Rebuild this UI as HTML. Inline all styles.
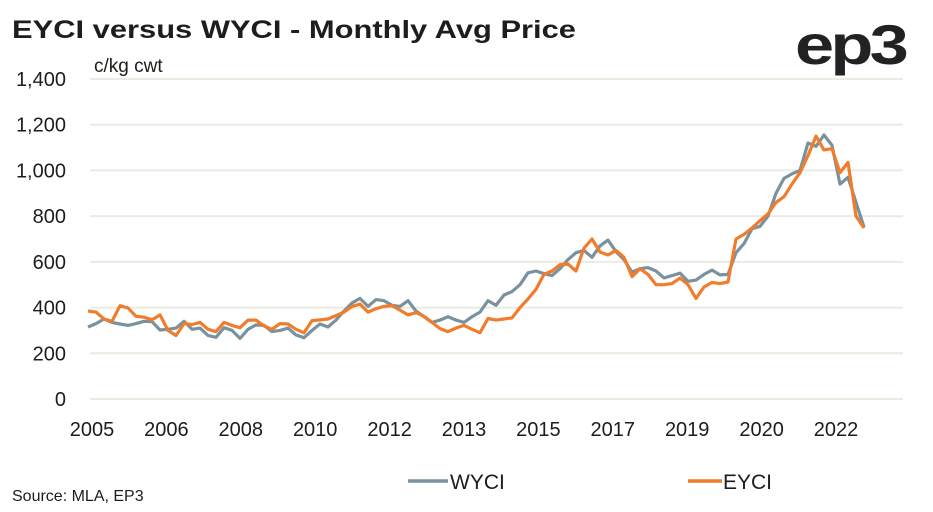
<!DOCTYPE html>
<html><head><meta charset="utf-8"><style>
body{margin:0;background:#fff;width:933px;height:512px;overflow:hidden;font-family:"Liberation Sans",sans-serif;color:#1d1d1b}
svg{position:absolute;left:0;top:0}
</style></head><body>
<svg width="933" height="512">
<text x="12" y="38" font-size="25" font-weight="bold" fill="#1d1d1b" textLength="564" lengthAdjust="spacingAndGlyphs">EYCI versus WYCI - Monthly Avg Price</text>
<text x="94" y="72" font-size="19" fill="#1d1d1b">c/kg cwt</text>
<text x="795" y="64" font-size="56" font-weight="bold" fill="#222" letter-spacing="-3" textLength="110" lengthAdjust="spacingAndGlyphs">ep3</text>
<g id="grid"></g>
<g id="yt"></g>
<g id="xt"></g>
<g id="series"></g>
<g>
<line x1="408" y1="481" x2="448" y2="481" stroke="#7a929e" stroke-width="3.5"/>
<text x="450" y="489" font-size="21" fill="#1d1d1b">WYCI</text>
<line x1="688" y1="481" x2="722" y2="481" stroke="#f07c2c" stroke-width="3.5"/>
<text x="723" y="489" font-size="21" fill="#1d1d1b">EYCI</text>
</g>
<text x="12" y="501" font-size="16" fill="#1d1d1b">Source: MLA, EP3</text>
</svg>
<script>
const yTicks=[0,200,400,600,800,1000,1200,1400];
const yTickLabels=["0","200","400","600","800","1,000","1,200","1,400"];
const xTickLabels=["2005","2006","2008","2010","2012","2013","2015","2017","2019","2020","2022"];
const wyci=[315,330,350,335,328,322,330,340,338,302,305,310,340,305,310,278,270,312,300,265,305,324,322,295,300,310,280,268,300,328,315,345,385,420,440,405,435,430,410,405,430,385,360,335,345,360,345,335,360,380,430,410,455,470,500,552,560,548,540,570,610,640,650,620,670,695,645,610,555,570,575,560,530,540,551,515,520,545,564,543,545,640,680,745,755,800,900,965,985,1000,1120,1105,1155,1110,940,970,860,752];
const eyci=[385,380,350,340,408,398,362,358,347,368,300,278,330,326,335,305,295,335,322,312,345,345,320,305,330,328,305,290,343,346,350,365,380,405,415,380,395,405,408,389,368,378,362,335,308,295,310,322,305,290,352,345,350,355,400,438,480,545,560,588,590,560,660,700,643,630,650,620,535,570,545,500,500,505,529,500,440,490,510,505,512,700,720,748,780,810,860,885,940,990,1065,1150,1090,1095,990,1035,800,748];
const NS='http://www.w3.org/2000/svg';
const y0=399,yPer=320/1400,xs=88,xe=864;
const Y=v=>y0-v*yPer;
const X=i=>xs+i*(xe-xs)/(wyci.length-1);
const grid=document.getElementById('grid'),yt=document.getElementById('yt'),xt=document.getElementById('xt'),ser=document.getElementById('series');
yTicks.forEach((t,k)=>{
 const l=document.createElementNS(NS,'line');
 l.setAttribute('x1',90);l.setAttribute('x2',903);l.setAttribute('y1',Y(t));l.setAttribute('y2',Y(t));
 l.setAttribute('stroke','#ebebe1');l.setAttribute('stroke-width','2');
 
 
 grid.appendChild(l);
 const tx=document.createElementNS(NS,'text');
 tx.setAttribute('x',66);tx.setAttribute('y',Y(t)+7);tx.setAttribute('text-anchor','end');tx.setAttribute('font-size','20');tx.setAttribute('fill','#1d1d1b');
 tx.textContent=yTickLabels[k];
 
 
 yt.appendChild(tx);
});
xTickLabels.forEach((s,k)=>{
 const tx=document.createElementNS(NS,'text');
 tx.setAttribute('x',92+k*74.4);tx.setAttribute('y',436);tx.setAttribute('text-anchor','middle');tx.setAttribute('font-size','20');tx.setAttribute('fill','#1d1d1b');
 tx.textContent=s;
 
 
 xt.appendChild(tx);
});
function draw(arr,col,name){
 const p=document.createElementNS(NS,'polyline');
 p.setAttribute('points',arr.map((v,i)=>X(i).toFixed(1)+','+Y(v).toFixed(1)).join(' '));
 p.setAttribute('fill','none');p.setAttribute('stroke',col);p.setAttribute('stroke-width','3.2');p.setAttribute('stroke-linejoin','round');
 
 
 ser.appendChild(p);
}
draw(wyci,'#7a929e','wyci-line');
draw(eyci,'#f07c2c','eyci-line');
</script>
</body></html>
